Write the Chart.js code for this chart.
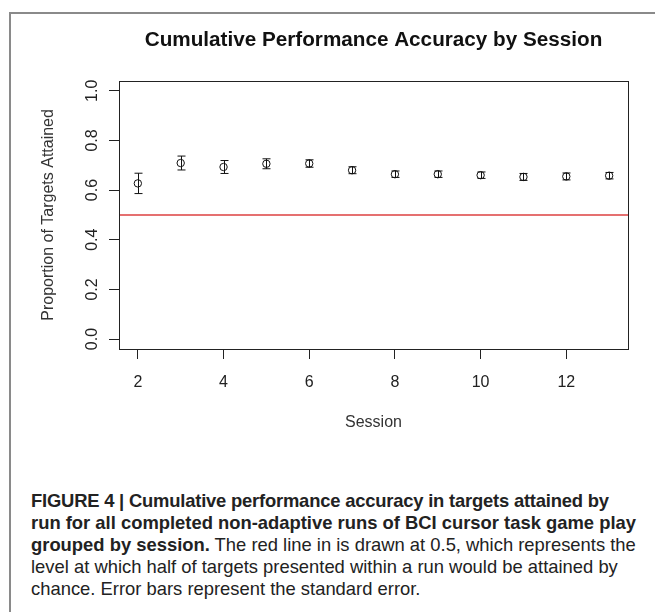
<!DOCTYPE html>
<html><head><meta charset="utf-8">
<script src="https://cdn.jsdelivr.net/npm/chart.js@4.4.1/dist/chart.umd.min.js"></script>
<style>
html,body{margin:0;padding:0;background:#fff;}
body{width:655px;height:612px;position:relative;overflow:hidden;font-family:"Liberation Sans",Arial,sans-serif;}
#frame{position:absolute;left:9px;top:12px;width:700px;height:700px;border-top:2px solid #8a8a8a;border-left:2px solid #8a8a8a;}
#c{position:absolute;left:0;top:0;}
#caption{position:absolute;left:31px;top:490px;font-size:18.4px;line-height:22px;color:#222;white-space:nowrap;}
#caption .l1{letter-spacing:-0.2px;}
</style></head>
<body>
<div id="frame"></div>
<canvas id="c" width="655" height="460"></canvas>
<div id="caption"><b><span class="l1">FIGURE 4 | Cumulative performance accuracy in targets attained by</span><br>run for all completed non-adaptive runs of BCI cursor task game play<br>grouped by session.</b> The red line in is drawn at 0.5, which represents the<br>level at which half of targets presented within a run would be attained by<br>chance. Error bars represent the standard error.</div>
<script>
const sessions = [2,3,4,5,6,7,8,9,10,11,12,13];
const meanAccuracy = [0.627,0.709,0.693,0.706,0.707,0.680,0.664,0.664,0.660,0.653,0.655,0.658];
const standardError = [0.041,0.028,0.026,0.020,0.015,0.014,0.013,0.013,0.013,0.014,0.014,0.013];
const xTickValues = [2,4,6,8,10,12];
const yTickValues = [0,0.2,0.4,0.6,0.8,1.0];
const chanceLevel = 0.5;

const FONT = '"Liberation Sans", Arial, sans-serif';
const xLo = Math.min(...sessions), xHi = Math.max(...sessions);
const xPad = (xHi - xLo) * 0.04;
const yLo = yTickValues[0], yHi = yTickValues[yTickValues.length-1];
const yPad = (yHi - yLo) * 0.04;

const plotDecor = {
  id: 'plotDecor',
  beforeDatasetsDraw(chart) {
    const {ctx, chartArea: a, scales: {y}} = chart;
    const py = y.getPixelForValue(chanceLevel);
    ctx.save();
    ctx.strokeStyle = '#dc4040';
    ctx.lineWidth = 1.5;
    ctx.beginPath();
    ctx.moveTo(a.left, py); ctx.lineTo(a.right, py);
    ctx.stroke();
    ctx.restore();
  },
  afterDatasetsDraw(chart) {
    const {ctx, chartArea: a, scales: {x, y}} = chart;
    ctx.save();
    ctx.strokeStyle = '#111';
    ctx.lineWidth = 1;
    sessions.forEach((s, i) => {
      const px = Math.round(x.getPixelForValue(s)) + 0.5;
      const t = y.getPixelForValue(meanAccuracy[i] + standardError[i]);
      const b = y.getPixelForValue(meanAccuracy[i] - standardError[i]);
      ctx.beginPath();
      ctx.moveTo(px, t); ctx.lineTo(px, b);
      ctx.moveTo(px - 4, t); ctx.lineTo(px + 4, t);
      ctx.moveTo(px - 4, b); ctx.lineTo(px + 4, b);
      ctx.stroke();
    });
    ctx.strokeStyle = '#222';
    ctx.strokeRect(Math.round(a.left) + 0.5, Math.round(a.top) + 0.5, Math.round(a.right - a.left), Math.round(a.bottom - a.top));
    ctx.restore();
  }
};

new Chart(document.getElementById('c'), {
  type: 'scatter',
  data: {
    datasets: [{
      data: sessions.map((s, i) => ({x: s, y: meanAccuracy[i]})),
      pointStyle: 'circle',
      pointRadius: 3.7,
      pointBorderWidth: 1,
      pointBorderColor: '#111',
      pointBackgroundColor: 'rgba(0,0,0,0)',
      showLine: false
    }]
  },
  options: {
    responsive: false,
    animation: false,
    events: [],
    layout: {padding: {left: 0, right: 27, top: 0, bottom: 21}},
    plugins: {
      legend: {display: false},
      tooltip: {enabled: false},
      title: {
        display: true,
        fullSize: false,
        text: 'Cumulative Performance Accuracy by Session',
        color: '#111',
        font: {family: FONT, size: 20.7, weight: 'bold'},
        padding: {top: 28, bottom: 28}
      }
    },
    scales: {
      x: {
        type: 'linear',
        min: xLo - xPad, max: xHi + xPad,
        afterBuildTicks: sc => { sc.ticks = xTickValues.map(v => ({value: v})); },
        afterFit: sc => { sc.height = 90; },
        ticks: {color: '#222', font: {family: FONT, size: 16}, padding: 14, maxRotation: 0, autoSkip: false},
        grid: {drawOnChartArea: false, drawTicks: true, tickLength: 10, color: '#222', lineWidth: 1},
        border: {display: false},
        title: {display: true, text: 'Session', color: '#333', font: {family: FONT, size: 16}, padding: {top: 0, bottom: 7}}
      },
      y: {
        type: 'linear',
        min: yLo - yPad, max: yHi + yPad,
        afterBuildTicks: sc => { sc.ticks = yTickValues.map(v => ({value: v})); },
        afterFit: sc => { sc.width = 119; },
        ticks: {color: '#222', font: {family: FONT, size: 16}, padding: 5, minRotation: 90, maxRotation: 90, crossAlign: 'center', callback: v => Number(v).toFixed(1)},
        grid: {drawOnChartArea: false, drawTicks: true, tickLength: 10, color: '#222', lineWidth: 1},
        border: {display: false},
        title: {display: true, text: 'Proportion of Targets Attained', color: '#333', font: {family: FONT, size: 16}, padding: {top: 39, bottom: 0}}
      }
    }
  },
  plugins: [plotDecor]
});
</script>
</body></html>
